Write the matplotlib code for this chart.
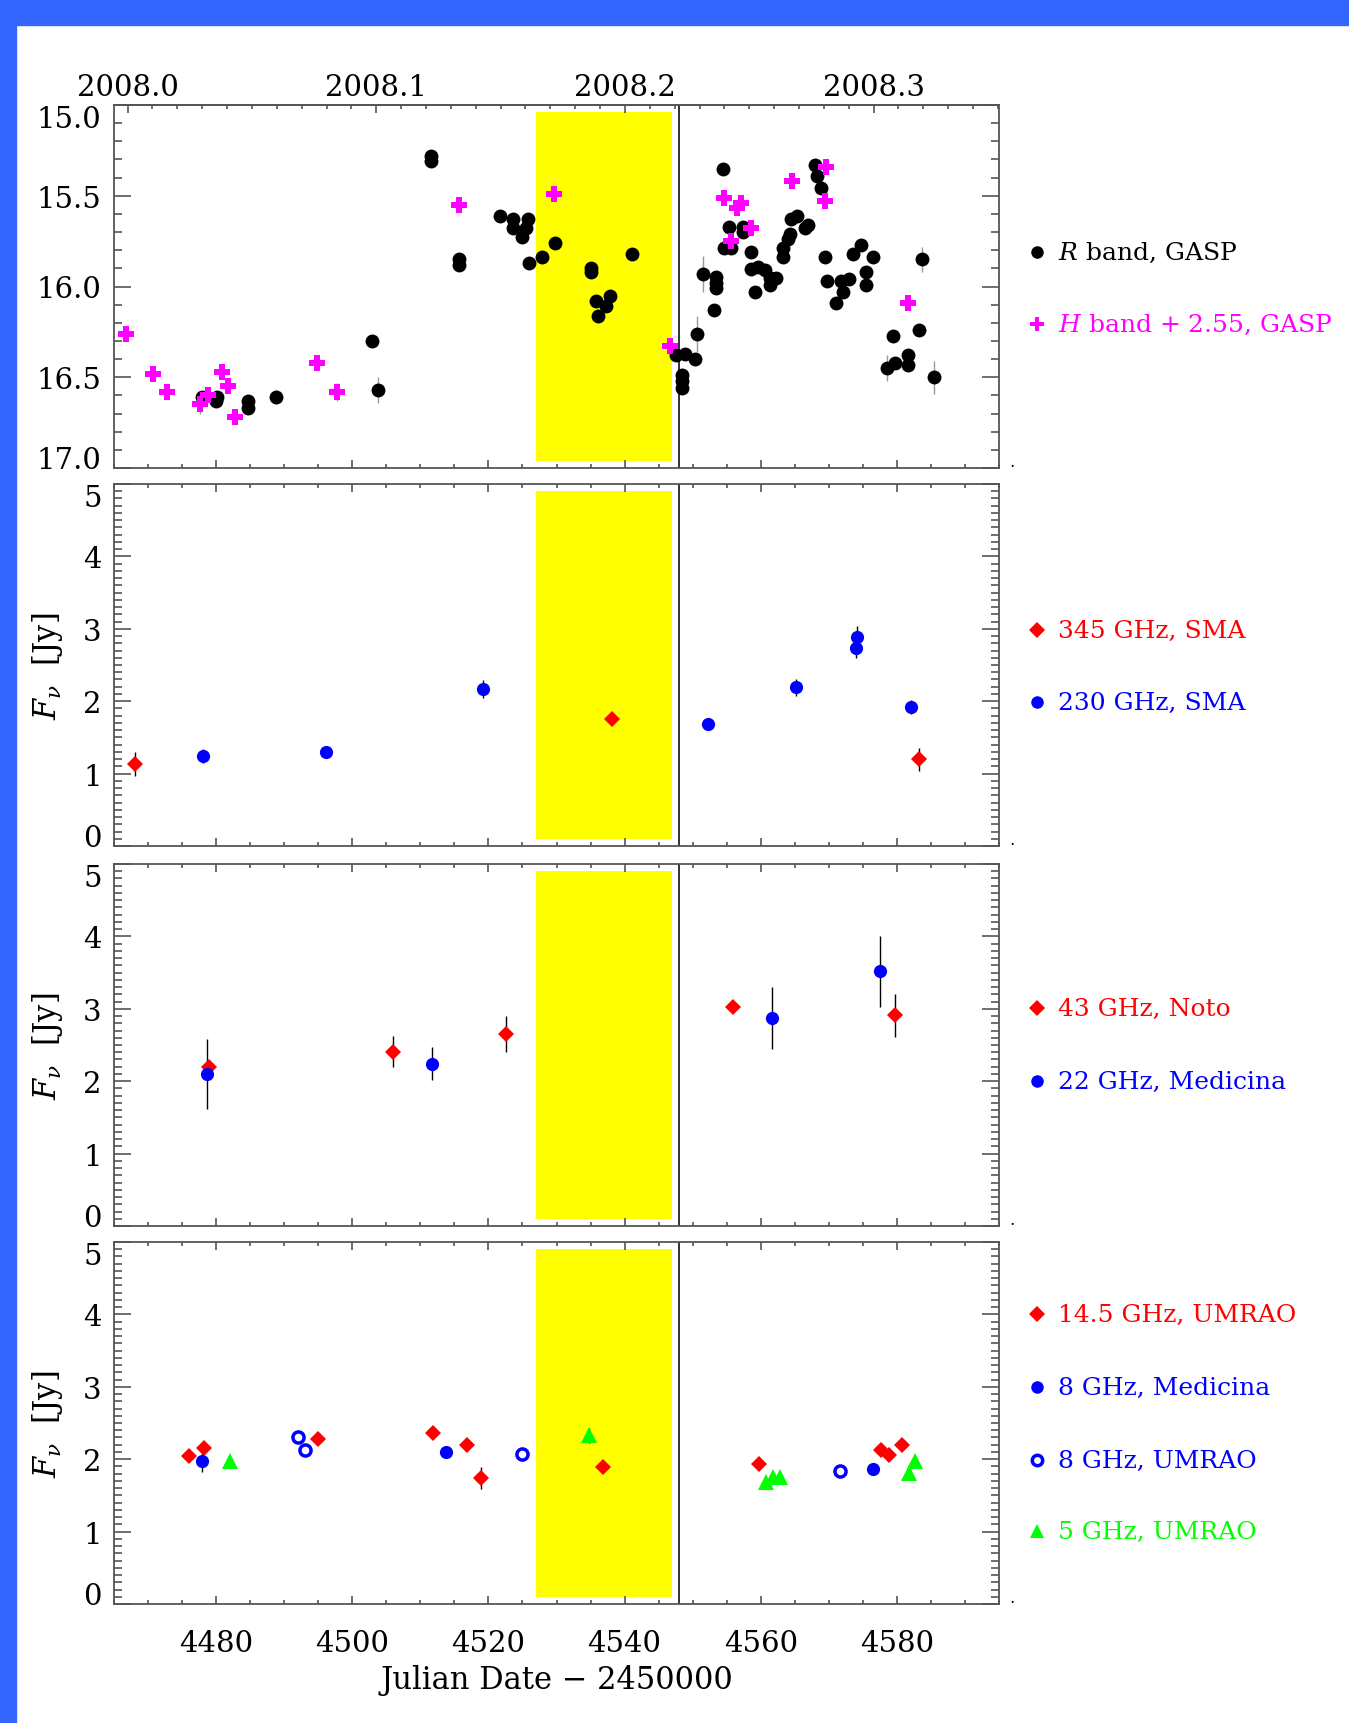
import matplotlib
matplotlib.use("Agg")
import matplotlib.pyplot as plt
from matplotlib.lines import Line2D
from matplotlib.patches import Rectangle
from matplotlib.ticker import MultipleLocator, FixedLocator, FormatStrFormatter

plt.rcParams["font.family"] = ["DejaVu Serif", "DejaVu Sans"]
plt.rcParams["mathtext.fontset"] = "dejavuserif"

# ---- data (JD - 2450000) ----
r_jd = [4477.9, 4480.1, 4480.0, 4484.7, 4484.7, 4488.8, 4502.9, 4503.75, 4511.6, 4511.6,
        4515.7, 4515.7, 4521.7, 4523.6, 4523.6, 4525.8, 4525.5, 4525.0, 4526.0, 4527.9,
        4529.8, 4535.1, 4535.1, 4535.8, 4537.2, 4536.1, 4537.9, 4541.1,
        4547.6, 4548.85, 4550.3, 4548.5, 4548.5, 4548.5, 4550.6, 4551.5, 4553.5, 4553.5,
        4553.5, 4553.2, 4554.5, 4554.6, 4555.7, 4555.4, 4557.4, 4557.4, 4558.6, 4558.5,
        4559.6, 4559.1, 4560.7, 4561.3, 4561.3, 4562.3, 4563.3, 4563.3, 4564.0, 4564.3,
        4564.5, 4565.3, 4566.5, 4567.0, 4568.0, 4568.2, 4568.8, 4569.5, 4569.8, 4571.1,
        4572.1, 4571.8, 4572.9, 4573.6, 4574.7, 4575.5, 4575.5, 4576.5, 4578.5, 4579.4,
        4579.7, 4581.6, 4581.6, 4583.2, 4583.7, 4585.5]
r_mag = [16.61, 16.61, 16.63, 16.63, 16.67, 16.61, 16.30, 16.57, 15.28, 15.31,
         15.85, 15.88, 15.61, 15.63, 15.68, 15.63, 15.68, 15.73, 15.87, 15.84,
         15.76, 15.90, 15.92, 16.08, 16.11, 16.16, 16.05, 15.82,
         16.38, 16.37, 16.40, 16.49, 16.52, 16.56, 16.26, 15.93, 15.95, 15.98,
         16.01, 16.13, 15.35, 15.79, 15.79, 15.67, 15.67, 15.70, 15.81, 15.905,
         15.89, 16.03, 15.91, 15.99, 15.955, 15.955, 15.835, 15.79, 15.74, 15.71,
         15.63, 15.61, 15.68, 15.66, 15.33, 15.39, 15.46, 15.835, 15.97, 16.09,
         16.03, 15.97, 15.96, 15.82, 15.77, 15.92, 15.99, 15.835, 16.45, 16.27,
         16.42, 16.38, 16.43, 16.24, 15.85, 16.50]
r_err = [0.03, 0.02, 0.02, 0.02, 0.02, 0.04, 0.03, 0.07, 0.02, 0.02,
         0.02, 0.02, 0.02, 0.02, 0.02, 0.02, 0.02, 0.02, 0.02, 0.02,
         0.02, 0.02, 0.02, 0.02, 0.02, 0.02, 0.02, 0.02,
         0.02, 0.02, 0.03, 0.02, 0.02, 0.02, 0.10, 0.10, 0.03, 0.03,
         0.03, 0.03, 0.02, 0.02, 0.02, 0.02, 0.02, 0.02, 0.02, 0.02,
         0.02, 0.02, 0.02, 0.02, 0.02, 0.02, 0.02, 0.02, 0.02, 0.02,
         0.02, 0.02, 0.02, 0.02, 0.02, 0.02, 0.02, 0.02, 0.02, 0.02,
         0.02, 0.02, 0.02, 0.02, 0.02, 0.02, 0.02, 0.02, 0.07, 0.02,
         0.02, 0.02, 0.02, 0.02, 0.07, 0.09]

h_jd = [4466.8, 4470.8, 4472.8, 4477.7, 4478.75, 4480.8, 4481.7, 4482.8, 4494.8, 4497.8,
        4515.7, 4529.7, 4546.6, 4554.6, 4556.5, 4557.1, 4558.6, 4555.7, 4564.6, 4569.6,
        4569.5, 4581.6]
h_mag = [16.26, 16.48, 16.58, 16.65, 16.60, 16.47, 16.55, 16.72, 16.42, 16.58,
         15.55, 15.49, 16.33, 15.51, 15.57, 15.54, 15.68, 15.75, 15.42, 15.34,
         15.53, 16.09]
h_err = [0.02, 0.02, 0.04, 0.05, 0.02, 0.02, 0.02, 0.02, 0.02, 0.05,
         0.02, 0.02, 0.02, 0.02, 0.02, 0.02, 0.02, 0.02, 0.02, 0.02,
         0.02, 0.02]

sma345_jd = [4468.1, 4538.2, 4583.2]
sma345_f = [1.135, 1.76, 1.20]
sma345_e = [0.17, 0.08, 0.16]
sma230_jd = [4478.0, 4496.1, 4519.2, 4552.2, 4565.2, 4574.0, 4574.2, 4582.1]
sma230_f = [1.24, 1.30, 2.17, 1.69, 2.19, 2.73, 2.89, 1.92]
sma230_e = [0.10, 0.08, 0.12, 0.07, 0.12, 0.14, 0.15, 0.10]

noto43_jd = [4479.0, 4506.0, 4522.6, 4555.9, 4579.7]
noto43_f = [2.20, 2.41, 2.65, 3.03, 2.91]
noto43_e = [0.08, 0.21, 0.25, 0.07, 0.30]
med22_jd = [4478.7, 4511.7, 4561.6, 4577.5]
med22_f = [2.10, 2.24, 2.87, 3.52]
med22_e = [0.48, 0.23, 0.43, 0.49]

um145_jd = [4476.0, 4478.2, 4495.0, 4511.9, 4516.8, 4518.9, 4536.8, 4559.8, 4577.6, 4578.8, 4580.7]
um145_f = [2.04, 2.16, 2.28, 2.36, 2.20, 1.74, 1.89, 1.93, 2.13, 2.06, 2.20]
um145_e = [0.05, 0.05, 0.05, 0.05, 0.05, 0.15, 0.08, 0.05, 0.05, 0.05, 0.05]
med8_jd = [4477.9, 4513.7, 4576.5]
med8_f = [1.98, 2.10, 1.86]
med8_e = [0.15, 0.05, 0.05]
um8_jd = [4492.0, 4493.1, 4524.9, 4571.7]
um8_f = [2.30, 2.13, 2.07, 1.84]
um8_e = [0.04, 0.04, 0.04, 0.04]
um5_jd = [4482.1, 4534.8, 4560.8, 4561.8, 4562.9, 4581.8, 4582.7]
um5_f = [1.97, 2.33, 1.69, 1.75, 1.76, 1.81, 1.97]
um5_e = [0.04, 0.10, 0.05, 0.05, 0.05, 0.10, 0.05]

year_ticks = [2008.0, 2008.1, 2008.2, 2008.3]
band_start, band_end = 4527, 4547
vline_jd = 4548

# ---- layout ----
W, H = 1349, 1724
fig = plt.figure(figsize=(W / 100, H / 100), dpi=100)
fig.patch.set_facecolor("white")
fig.patches.append(Rectangle((0, 1 - 26 / H), 1, 26 / H, transform=fig.transFigure,
                             color="#3366ff", zorder=-5))
fig.patches.append(Rectangle((0, 0), 16 / W, 1, transform=fig.transFigure,
                             color="#3366ff", zorder=-5))

AX_COL = "#555555"
panels = [(106, 469), (485, 847), (865, 1227), (1243, 1605)]


def make_ax(top, bottom):
    return fig.add_axes([114 / W, 1 - bottom / H, 885 / W, (bottom - top) / H])


def style(ax, yticks, minor, fmt):
    ax.set_xlim(4465, 4595)
    ax.xaxis.set_major_locator(MultipleLocator(20))
    ax.xaxis.set_minor_locator(MultipleLocator(5))
    ax.set_yticks(yticks)
    ax.yaxis.set_minor_locator(MultipleLocator(minor))
    ax.yaxis.set_major_formatter(FormatStrFormatter(fmt))
    ax.tick_params(which="both", direction="in", top=True, right=True,
                   color=AX_COL, width=1.2, labelsize=21)
    ax.tick_params(axis="x", which="major", length=6, pad=18)
    ax.tick_params(axis="x", which="minor", length=3)
    ax.tick_params(axis="y", which="major", length=12, pad=9)
    ax.tick_params(axis="y", which="minor", length=6)
    for s in ax.spines.values():
        s.set_color(AX_COL)
        s.set_linewidth(1.3)
    ax.axvspan(band_start, band_end, ymin=0.02, ymax=0.98, color="#ffff00", lw=0, zorder=0)
    ax.axvline(vline_jd, color="#222222", lw=1.3, zorder=1)
    ax.tick_params(labelbottom=False)


def end_labels(ax, low_at_bottom=True):
    labs = ax.get_yticklabels()
    if low_at_bottom:
        labs[0].set_verticalalignment("baseline")
        labs[-1].set_verticalalignment("top")
    else:
        labs[0].set_verticalalignment("top")
        labs[-1].set_verticalalignment("baseline")


# panel 1: optical / NIR
ax1 = make_ax(*panels[0])
style(ax1, [15.0, 15.5, 16.0, 16.5, 17.0], 0.1, "%.1f")
ax1.set_ylim(17.0, 15.0)
ax1.tick_params(top=False, which="both")
end_labels(ax1, low_at_bottom=False)
ax1.errorbar(r_jd, r_mag, yerr=r_err, fmt="o", color="black", ms=10, mew=0,
             ecolor="#999999", elinewidth=1, capsize=0, zorder=3)
ax1.errorbar(h_jd, h_mag, yerr=h_err, fmt="P", color="#ff00ff", ms=11, mew=0,
             ecolor="#999999", elinewidth=1, capsize=0, zorder=4)


def jd2yr(jd):
    return 2000 + (jd - 1545) / 365.25


def yr2jd(yr):
    return (yr - 2000) * 365.25 + 1545


sec = ax1.secondary_xaxis("top", functions=(jd2yr, yr2jd))
sec.xaxis.set_major_locator(FixedLocator(year_ticks))
sec.xaxis.set_minor_locator(MultipleLocator(0.01))
sec.xaxis.set_major_formatter(FormatStrFormatter("%.1f"))
sec.tick_params(which="both", direction="in", color=AX_COL, width=1.2, labelsize=21)
sec.tick_params(which="major", length=6, pad=3)
sec.tick_params(which="minor", length=3)
sec.spines["top"].set_color(AX_COL)
sec.spines["top"].set_linewidth(1.3)

flux_ticks = [0, 1, 2, 3, 4, 5]
err_kw = dict(ecolor="black", elinewidth=1, capsize=0, linestyle="none")

# panel 2: SMA
ax2 = make_ax(*panels[1])
style(ax2, flux_ticks, 0.1, "%d")
ax2.set_ylim(0, 5)
end_labels(ax2)
ax2.errorbar(sma345_jd, sma345_f, yerr=sma345_e, marker="D", color="#ff0000", ms=8.5, mew=0, zorder=3, **err_kw)
ax2.errorbar(sma230_jd, sma230_f, yerr=sma230_e, marker="o", color="#0000ff", ms=9.5, mew=0, zorder=3, **err_kw)

# panel 3: Noto / Medicina
ax3 = make_ax(*panels[2])
style(ax3, flux_ticks, 0.1, "%d")
ax3.set_ylim(0, 5)
end_labels(ax3)
ax3.errorbar(noto43_jd, noto43_f, yerr=noto43_e, marker="D", color="#ff0000", ms=8.5, mew=0, zorder=3, **err_kw)
ax3.errorbar(med22_jd, med22_f, yerr=med22_e, marker="o", color="#0000ff", ms=9.5, mew=0, zorder=3, **err_kw)

# panel 4: UMRAO / Medicina
ax4 = make_ax(*panels[3])
style(ax4, flux_ticks, 0.1, "%d")
ax4.set_ylim(0, 5)
end_labels(ax4)
ax4.tick_params(labelbottom=True)
ax4.errorbar(um145_jd, um145_f, yerr=um145_e, marker="D", color="#ff0000", ms=8.5, mew=0, zorder=3, **err_kw)
ax4.errorbar(med8_jd, med8_f, yerr=med8_e, marker="o", color="#0000ff", ms=9.5, mew=0, zorder=3, **err_kw)
ax4.errorbar(um8_jd, um8_f, yerr=um8_e, marker="o", color="#0000ff", mfc="white", mec="#0000ff",
             ms=8, mew=2.5, zorder=3, **err_kw)
ax4.errorbar(um5_jd, um5_f, yerr=um5_e, marker="^", color="#00ff00", ms=11, mew=0, zorder=3, **err_kw)
ax4.set_xlabel("Julian Date \u2212 2450000", fontsize=22, labelpad=5)

for ax in (ax2, ax3, ax4):
    ax.set_ylabel(r"$F_\nu$  [Jy]", fontsize=22)
    ax.yaxis.set_label_coords(-0.0757, 0.5)
    ax.yaxis.label.set_verticalalignment("center")

# ---- legends drawn at the right of each panel ----
legend_items = [
    (253, "o", "black", "black", r"$R$ band, GASP", 9),
    (325, "P", "#ff00ff", "#ff00ff", r"$H$ band + 2.55, GASP", 10),
    (631, "D", "#ff0000", "#ff0000", "345 GHz, SMA", 8),
    (703, "o", "#0000ff", "#0000ff", "230 GHz, SMA", 9),
    (1009, "D", "#ff0000", "#ff0000", "43 GHz, Noto", 8),
    (1082, "o", "#0000ff", "#0000ff", "22 GHz, Medicina", 9),
    (1315, "D", "#ff0000", "#ff0000", "14.5 GHz, UMRAO", 8),
    (1388, "o", "#0000ff", "#0000ff", "8 GHz, Medicina", 9),
    (1461, "o", "white", "#0000ff", "8 GHz, UMRAO", 7.5),
    (1532, "^", "#00ff00", "#00ff00", "5 GHz, UMRAO", 10),
]
for ypix, mk, fc, ec, label, ms in legend_items:
    yf = 1 - ypix / H
    mew = 2.5 if fc == "white" else 0
    fig.add_artist(Line2D([1037 / W], [yf], marker=mk, ms=ms, mfc=fc, mec=ec, mew=mew,
                          linestyle="none", transform=fig.transFigure))
    fig.text(1058 / W, yf, label, fontsize=18, color=ec, va="center", ha="left")

for top, bottom in panels:
    fig.text(1012 / W, 1 - (bottom + 2) / H, ".", fontsize=12, ha="center", va="bottom")

fig.savefig("out.png", dpi=100)
